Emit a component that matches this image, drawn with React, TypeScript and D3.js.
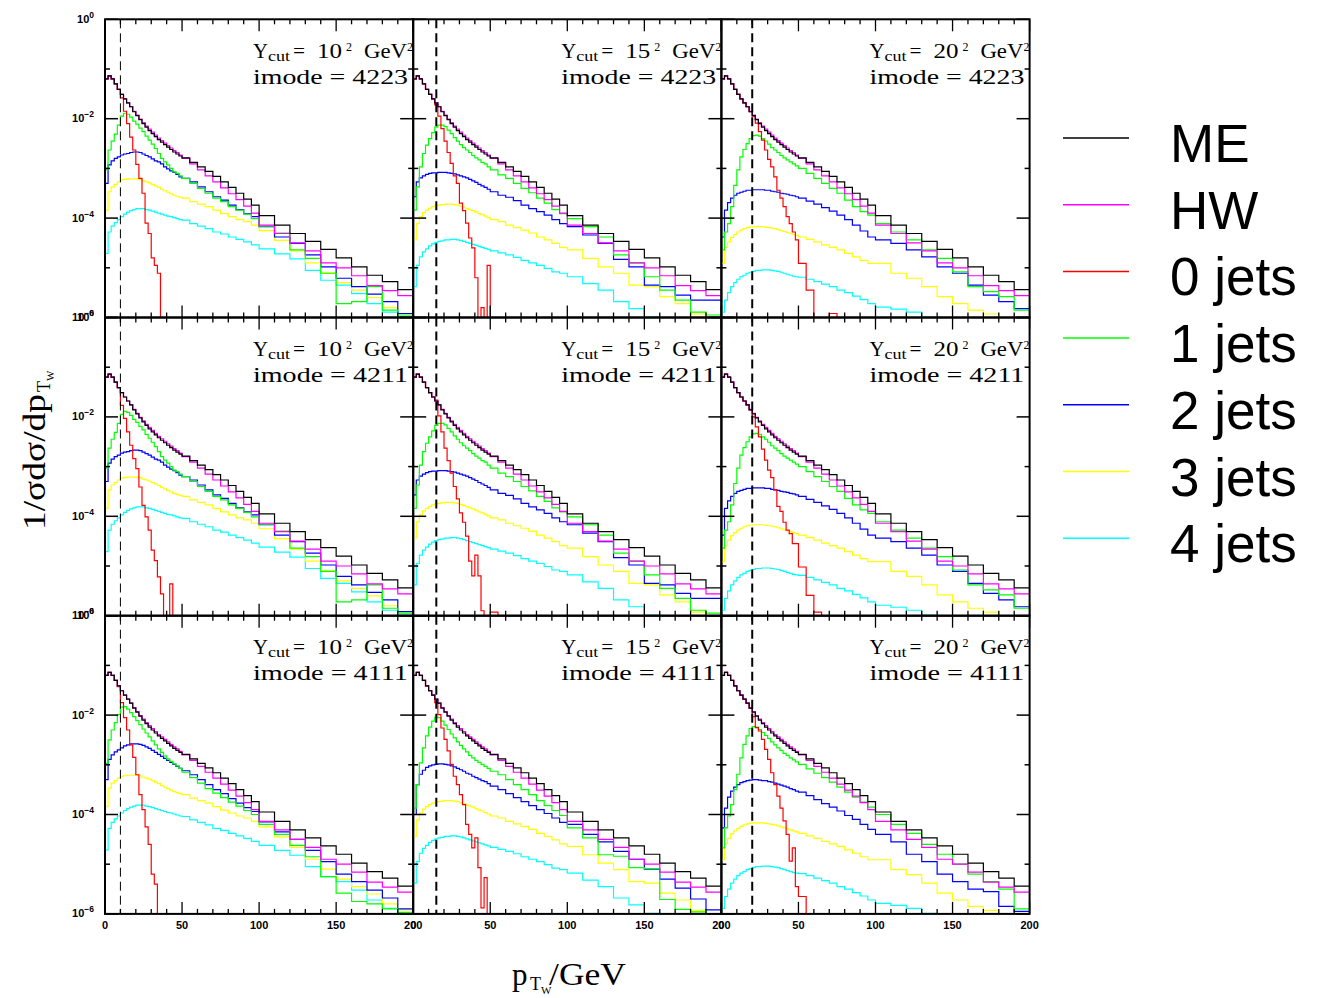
import React from "react";
import * as d3 from "d3";

// ---------------- data ----------------
// bin edges (GeV): 2 GeV bins to 50, 5 GeV bins to 100, 10 GeV bins to 200
const BIN_EDGES = [0, 2, 4, 6, 8, 10, 12, 14, 16, 18, 20, 22, 24, 26, 28, 30, 32, 34, 36, 38, 40, 42, 44, 46, 48, 50,
  55, 60, 65, 70, 75, 80, 85, 90, 95, 100, 110, 120, 130, 140, 150, 160, 170, 180, 190, 200];

const Y_CUT = [10, 15, 20]; // sqrt(Ycut) in GeV, one per column
const IMODE = [4223, 4211, 4111]; // one per row
const SERIES = ["ME", "HW", "0 jets", "1 jets", "2 jets", "3 jets", "4 jets"];
const COLORS = ["#000000", "#ff00ff", "#ff0000", "#00ff00", "#0000ff", "#ffff00", "#00ffff"];
const X_TICK_LABELS = [0, 50, 100, 150, 200];
const Y_TICK_EXP = [0, -2, -4, -6];

// values are log10(1/sigma dsigma/dpT); null = empty bin
const ME_LOG = [-1.20, -1.14, -1.20, -1.30, -1.41, -1.51, -1.60, -1.68, -1.76, -1.86, -1.94, -2.02, -2.10, -2.17, -2.24, -2.30, -2.36, -2.42, -2.47, -2.52, -2.57, -2.62, -2.67, -2.71, -2.75,
  -2.79, -2.88, -2.97, -3.06, -3.16, -3.27, -3.38, -3.50, -3.62, -3.74,
  -3.95, -4.14, -4.31, -4.47, -4.63, -4.80, -4.98, -5.15, -5.28, -5.44];
const HW_LOG = [-1.20, -1.14, -1.20, -1.30, -1.41, -1.51, -1.60, -1.68, -1.76, -1.85, -1.93, -2.01, -2.08, -2.15, -2.21, -2.27, -2.33, -2.39, -2.44, -2.49, -2.54, -2.59, -2.64, -2.68, -2.73,
  -2.80, -2.91, -3.03, -3.15, -3.27, -3.39, -3.51, -3.63, -3.76, -3.90,
  -4.14, -4.31, -4.50, -4.66, -4.90, -5.00, -5.16, -5.36, -5.46, -5.56];

// ---- column 1 (Ycut = 10^2), rows 1-2
const J1_C1 = [-3.03, -2.63, -2.45, -2.31, -2.13, -1.95, -1.89, -1.91, -1.97, -2.05, -2.11, -2.19, -2.26, -2.35, -2.43, -2.51, -2.60, -2.70, -2.80, -2.87, -2.93, -3.00, -3.07, -3.10, -3.15,
  -3.20, -3.30, -3.40, -3.50, -3.60, -3.67, -3.77, -3.84, -3.92, -4.01,
  -4.16, -4.30, -4.64, -4.81, -5.11, -5.72, -5.68, -5.38, -5.85, -5.95];
const J2_C1 = [-3.30, -2.93, -2.85, -2.80, -2.77, -2.73, -2.71, -2.70, -2.68, -2.67, -2.67, -2.68, -2.71, -2.74, -2.77, -2.81, -2.85, -2.87, -2.91, -2.97, -3.01, -3.05, -3.08, -3.12, -3.17,
  -3.20, -3.27, -3.37, -3.47, -3.57, -3.64, -3.74, -3.83, -3.91, -3.97,
  -4.17, -4.38, -4.51, -4.74, -4.98, -5.21, -5.38, -5.53, -5.68, -5.92];
const J3_C1 = [-3.84, -3.47, -3.37, -3.32, -3.27, -3.23, -3.22, -3.21, -3.21, -3.21, -3.21, -3.22, -3.25, -3.27, -3.29, -3.32, -3.35, -3.38, -3.42, -3.45, -3.48, -3.51, -3.54, -3.56, -3.58,
  -3.60, -3.67, -3.72, -3.77, -3.84, -3.91, -3.97, -4.03, -4.07, -4.14,
  -4.25, -4.45, -4.66, -4.90, -5.10, -5.30, -5.45, -5.60, -5.80, -5.92];
const J4_C1 = [-4.71, -4.28, -4.16, -4.09, -4.03, -3.97, -3.92, -3.88, -3.85, -3.83, -3.81, -3.81, -3.81, -3.83, -3.84, -3.86, -3.88, -3.90, -3.92, -3.94, -3.96, -3.97, -3.99, -4.01, -4.03,
  -4.04, -4.11, -4.16, -4.21, -4.28, -4.32, -4.38, -4.43, -4.48, -4.54,
  -4.62, -4.72, -4.82, -5.05, -5.25, -5.35, -5.52, -5.72, -5.89, -5.99];
// column 1, row 3
const J1_C1_R3 = [-2.97, -2.50, -2.30, -2.15, -1.99, -1.84, -1.83, -1.88, -1.95, -2.03, -2.11, -2.19, -2.28, -2.36, -2.44, -2.52, -2.60, -2.68, -2.75, -2.82, -2.88, -2.93, -2.98, -3.02, -3.07,
  -3.15, -3.26, -3.37, -3.48, -3.57, -3.66, -3.75, -3.83, -3.92, -4.00,
  -4.20, -4.40, -4.62, -4.85, -5.25, -5.58, -5.75, -5.80, -5.90, -5.97];
const J2_C1_R3 = [-3.30, -2.89, -2.80, -2.74, -2.70, -2.66, -2.62, -2.60, -2.58, -2.58, -2.58, -2.59, -2.61, -2.64, -2.67, -2.71, -2.75, -2.79, -2.83, -2.87, -2.91, -2.95, -2.99, -3.03, -3.07,
  -3.12, -3.20, -3.30, -3.40, -3.50, -3.58, -3.68, -3.77, -3.86, -3.94,
  -4.15, -4.35, -4.50, -4.72, -4.95, -5.20, -5.35, -5.52, -5.68, -5.90];
const J0_R1C1 = [-1.20, -1.14, -1.20, -1.30, -1.41, -1.58, -1.85, -2.10, -2.37, -2.63, -2.92, -3.20, -3.50, -4.10, -4.31, -4.80, -4.95, -5.11];
const J0_R2C1 = [-1.20, -1.14, -1.20, -1.30, -1.41, -1.77, -2.03, -2.30, -2.57, -2.84, -3.04, -3.41, -3.78, -4.01, -4.28, -4.68, -4.89, -5.22, -5.56, null, null, -5.36];
const J0_R3C1 = [-1.20, -1.14, -1.20, -1.30, -1.43, -1.75, -2.05, -2.30, -2.60, -2.85, -3.20, -3.60, -3.90, -4.25, -4.60, -5.20, -5.40];

// ---- column 2 (Ycut = 15^2), rows 1-2
const J1_C2 = [-3.84, -3.37, -2.97, -2.70, -2.53, -2.40, -2.28, -2.17, -2.13, -2.13, -2.16, -2.23, -2.30, -2.38, -2.45, -2.52, -2.58, -2.63, -2.68, -2.74, -2.79, -2.83, -2.88, -2.91, -2.97,
  -3.03, -3.13, -3.20, -3.30, -3.40, -3.49, -3.60, -3.70, -3.83, -3.91,
  -4.01, -4.17, -4.38, -4.74, -4.90, -5.18, -5.45, -5.65, -5.89, -5.95];
const J2_C2 = [-3.57, -3.27, -3.19, -3.15, -3.12, -3.10, -3.09, -3.09, -3.08, -3.08, -3.08, -3.09, -3.10, -3.11, -3.13, -3.15, -3.17, -3.19, -3.22, -3.25, -3.28, -3.32, -3.35, -3.38, -3.42,
  -3.47, -3.54, -3.58, -3.65, -3.74, -3.81, -3.87, -3.94, -4.03, -4.11,
  -4.17, -4.34, -4.51, -4.83, -4.98, -5.35, -5.38, -5.55, -5.65, -5.65];
const J3_C2 = [-4.44, -4.11, -3.97, -3.89, -3.84, -3.80, -3.77, -3.75, -3.74, -3.73, -3.72, -3.72, -3.72, -3.73, -3.74, -3.76, -3.78, -3.81, -3.83, -3.85, -3.88, -3.91, -3.93, -3.96, -3.99,
  -4.03, -4.07, -4.14, -4.19, -4.24, -4.30, -4.38, -4.44, -4.51, -4.59,
  -4.64, -4.81, -4.98, -5.11, -5.35, -5.38, -5.58, -5.72, -5.93, null];
const J4_C2 = [-5.38, -4.95, -4.78, -4.68, -4.62, -4.56, -4.52, -4.49, -4.47, -4.46, -4.44, -4.44, -4.43, -4.43, -4.44, -4.45, -4.47, -4.49, -4.51, -4.53, -4.55, -4.57, -4.59, -4.61, -4.63,
  -4.66, -4.70, -4.74, -4.79, -4.85, -4.90, -4.95, -5.01, -5.08, -5.11,
  -5.18, -5.32, -5.45, -5.68, -5.82, -5.99, null, null, null, null];
// column 2, row 3
const J1_C2_R3 = [-3.87, -3.40, -2.96, -2.66, -2.42, -2.24, -2.12, -2.04, -2.05, -2.12, -2.20, -2.29, -2.38, -2.46, -2.54, -2.61, -2.68, -2.74, -2.81, -2.86, -2.91, -2.95, -2.99, -3.03, -3.07,
  -3.13, -3.20, -3.30, -3.40, -3.50, -3.60, -3.72, -3.82, -3.92, -4.02,
  -4.27, -4.47, -4.81, -4.84, -5.07, -5.09, -5.71, -5.91, -5.96, null];
const J2_C2_R3 = [-4.00, -3.40, -3.19, -3.11, -3.05, -3.02, -3.00, -2.99, -2.98, -2.98, -2.99, -3.00, -3.02, -3.04, -3.07, -3.10, -3.13, -3.17, -3.19, -3.23, -3.26, -3.29, -3.32, -3.34, -3.38,
  -3.43, -3.50, -3.58, -3.66, -3.74, -3.82, -3.90, -3.98, -4.07, -4.16,
  -4.20, -4.40, -4.55, -4.74, -4.90, -5.10, -5.30, -5.48, -5.70, -5.92];
const J0_R1C2 = [-1.20, -1.14, -1.20, -1.30, -1.41, -1.51, -1.60, -1.72, -1.95, -2.20, -2.45, -2.68, -2.90, -3.15, -3.30, -3.70, -3.85, -4.10, -4.40, -4.60, -5.20, null, -5.80, null, -4.95];
const J0_R2C2 = [-1.20, -1.14, -1.20, -1.30, -1.41, -1.51, -1.60, -1.66, -1.98, -2.30, -2.63, -2.88, -3.13, -3.40, -3.65, -3.93, -4.12, -4.40, -4.90, -5.20, -4.78, -5.20, -5.90, null, null, -5.93];
const J0_R3C2 = [-1.20, -1.14, -1.20, -1.30, -1.41, -1.51, -1.60, -1.75, -1.99, -2.26, -2.49, -2.72, -2.99, -3.23, -3.40, -3.60, -3.80, -4.20, -4.40, -4.67, -4.47, -5.07, -5.88, -5.27];

// ---- column 3 (Ycut = 20^2), rows 1-2
const J1_C3 = [-4.64, -4.28, -4.11, -3.77, -3.34, -3.03, -2.77, -2.62, -2.50, -2.40, -2.34, -2.33, -2.35, -2.40, -2.45, -2.51, -2.58, -2.63, -2.68, -2.74, -2.79, -2.83, -2.87, -2.91, -2.95,
  -3.00, -3.10, -3.20, -3.30, -3.40, -3.50, -3.64, -3.77, -3.87, -3.94,
  -4.11, -4.28, -4.44, -4.64, -4.81, -5.08, -5.38, -5.48, -5.58, -5.85];
const J2_C3 = [-4.38, -3.84, -3.69, -3.60, -3.54, -3.50, -3.48, -3.46, -3.44, -3.44, -3.43, -3.43, -3.43, -3.43, -3.44, -3.44, -3.46, -3.47, -3.48, -3.50, -3.51, -3.52, -3.54, -3.55, -3.57,
  -3.60, -3.66, -3.72, -3.79, -3.86, -3.94, -4.03, -4.14, -4.26, -4.38,
  -4.44, -4.51, -4.64, -4.78, -4.98, -5.11, -5.35, -5.55, -5.68, -5.82];
const J3_C3 = [-4.91, -4.59, -4.48, -4.39, -4.33, -4.28, -4.24, -4.21, -4.19, -4.18, -4.17, -4.17, -4.17, -4.17, -4.18, -4.19, -4.20, -4.21, -4.23, -4.25, -4.27, -4.29, -4.31, -4.33, -4.35,
  -4.38, -4.43, -4.48, -4.54, -4.59, -4.64, -4.71, -4.78, -4.85, -4.91,
  -4.91, -5.11, -5.21, -5.38, -5.58, -5.72, -5.85, -5.93, null, null];
const J4_C3 = [-5.89, -5.65, -5.50, -5.38, -5.30, -5.23, -5.18, -5.15, -5.11, -5.09, -5.07, -5.05, -5.05, -5.04, -5.04, -5.04, -5.05, -5.06, -5.07, -5.09, -5.11, -5.13, -5.15, -5.17, -5.18,
  -5.19, -5.23, -5.28, -5.33, -5.38, -5.45, -5.50, -5.57, -5.64, -5.72,
  -5.79, -5.83, -5.89, -5.99, null, null, null, null, null, null];
// column 3, row 3
const J1_C3_R3 = [-4.67, -4.27, -4.03, -3.80, -3.50, -3.19, -2.86, -2.59, -2.42, -2.27, -2.23, -2.24, -2.29, -2.35, -2.41, -2.47, -2.54, -2.60, -2.66, -2.71, -2.77, -2.81, -2.86, -2.90, -2.94,
  -2.99, -3.08, -3.17, -3.26, -3.35, -3.45, -3.55, -3.65, -3.75, -3.85,
  -4.00, -4.20, -4.38, -4.60, -4.80, -5.00, -5.20, -5.35, -5.50, -5.90];
const J2_C3_R3 = [-4.27, -3.87, -3.65, -3.53, -3.45, -3.40, -3.36, -3.34, -3.32, -3.31, -3.30, -3.30, -3.31, -3.32, -3.32, -3.34, -3.35, -3.37, -3.39, -3.41, -3.43, -3.45, -3.48, -3.50, -3.53,
  -3.55, -3.62, -3.70, -3.78, -3.85, -3.93, -4.02, -4.10, -4.20, -4.30,
  -4.40, -4.55, -4.80, -4.95, -5.20, -5.35, -5.50, -5.55, -5.85, -5.95];
const J0_R1C3 = [-1.20, -1.14, -1.20, -1.30, -1.41, -1.51, -1.60, -1.68, -1.76, -1.86, -1.95, -2.09, -2.26, -2.43, -2.63, -2.82, -2.97, -3.17, -3.44, -3.60, -3.77, -3.97, -4.11, -4.28, -4.44, -4.91, -5.45, null, null, -5.92];
const J0_R2C3 = [-1.20, -1.14, -1.20, -1.30, -1.41, -1.51, -1.60, -1.68, -1.76, -1.86, -2.00, -2.20, -2.40, -2.65, -2.87, -3.07, -3.22, -3.47, -3.80, -3.90, -4.12, -4.28, -4.35, -4.55, -4.55, -5.02, -5.59, -5.93];
const J0_R3C3 = [-1.20, -1.14, -1.20, -1.30, -1.41, -1.51, -1.60, -1.68, -1.76, -1.86, -2.03, -2.25, -2.32, -2.49, -2.69, -2.89, -3.16, -3.40, -3.63, -3.87, -4.13, -4.40, -4.94, -4.67, -5.45, -5.65];

type Vals = (number | null)[];
// [row][col] -> series in SERIES order
const PANEL_DATA: Vals[][][] = [
  [
    [ME_LOG, HW_LOG, J0_R1C1, J1_C1, J2_C1, J3_C1, J4_C1],
    [ME_LOG, HW_LOG, J0_R1C2, J1_C2, J2_C2, J3_C2, J4_C2],
    [ME_LOG, HW_LOG, J0_R1C3, J1_C3, J2_C3, J3_C3, J4_C3],
  ],
  [
    [ME_LOG, HW_LOG, J0_R2C1, J1_C1, J2_C1, J3_C1, J4_C1],
    [ME_LOG, HW_LOG, J0_R2C2, J1_C2, J2_C2, J3_C2, J4_C2],
    [ME_LOG, HW_LOG, J0_R2C3, J1_C3, J2_C3, J3_C3, J4_C3],
  ],
  [
    [ME_LOG, HW_LOG, J0_R3C1, J1_C1_R3, J2_C1_R3, J3_C1, J4_C1],
    [ME_LOG, HW_LOG, J0_R3C2, J1_C2_R3, J2_C2_R3, J3_C2, J4_C2],
    [ME_LOG, HW_LOG, J0_R3C3, J1_C3_R3, J2_C3_R3, J3_C3, J4_C3],
  ],
];

// ---------------- layout ----------------
const W = 1317, H = 998;
const PLOT_LEFT = 105, PLOT_TOP = 19.3, PANEL_W = 308.2, PANEL_H = 298.2;
const SERIF = "'Liberation Serif', 'DejaVu Serif', serif";
const TICKF = "'Liberation Sans', Arial, sans-serif";

function histPath(vals: Vals, x: d3.ScaleLinear<number, number>, y: d3.ScaleLogarithmic<number, number>, bottom: number) {
  let d = "";
  for (let i = 0; i < BIN_EDGES.length - 1; i++) {
    const v = vals[i];
    const yy = v === null || v === undefined ? bottom + 6 : y(Math.pow(10, v));
    const xa = x(BIN_EDGES[i]);
    const xb = x(BIN_EDGES[i + 1]);
    d += i === 0 ? `M${xa},${yy}` : `V${yy}`;
    d += `H${xb}`;
  }
  return d;
}

function Panel({ r, c }: { r: number; c: number }) {
  const x0 = PLOT_LEFT + c * PANEL_W;
  const y0 = PLOT_TOP + r * PANEL_H;
  const x = d3.scaleLinear().domain([0, 200]).range([x0, x0 + PANEL_W]);
  const y = d3.scaleLog().domain([1e-6, 1]).range([y0 + PANEL_H, y0]);
  const bottom = y0 + PANEL_H;
  const series = PANEL_DATA[r][c];
  const clipId = `clip-${r}-${c}`;
  const drawOrder = [6, 5, 4, 3, 2, 1, 0];
  const decades = d3.range(-6, 1);
  const xTicks = x.ticks(20);
  const cut = Y_CUT[c];
  return (
    <g>
      <defs>
        <clipPath id={clipId}>
          <rect x={x0} y={y0} width={PANEL_W} height={PANEL_H} />
        </clipPath>
      </defs>
      <g clipPath={`url(#${clipId})`}>
        {drawOrder.map((k) => (
          <path key={k} d={histPath(series[k], x, y, bottom)} fill="none" stroke={COLORS[k]} strokeWidth={1.2} />
        ))}
        <line x1={x(cut)} x2={x(cut)} y1={y0} y2={bottom} stroke="#000" strokeWidth={c === 0 ? 1 : 2} strokeDasharray="9,5" />
      </g>
      {/* ticks */}
      {decades.map((e) => {
        const len = e % 2 === 0 ? 13 : 5;
        const yy = y(Math.pow(10, e));
        return (
          <g key={"y" + e}>
            <line x1={x0} x2={x0 + len} y1={yy} y2={yy} stroke="#000" strokeWidth={1.5} />
            <line x1={x0 + PANEL_W - len} x2={x0 + PANEL_W} y1={yy} y2={yy} stroke="#000" strokeWidth={1.5} />
          </g>
        );
      })}
      {xTicks.map((t) => {
        const len = t % 50 === 0 ? 12 : 5;
        const xx = x(t);
        return (
          <g key={"x" + t}>
            <line x1={xx} x2={xx} y1={bottom} y2={bottom - len} stroke="#000" strokeWidth={1.3} />
            <line x1={xx} x2={xx} y1={y0} y2={y0 + len} stroke="#000" strokeWidth={1.3} />
          </g>
        );
      })}
      <rect x={x0} y={y0} width={PANEL_W} height={PANEL_H} fill="none" stroke="#000" strokeWidth={2} />
      {/* annotation */}
      <g transform={`translate(${x0},${y0})`} fontFamily={SERIF} fill="#000">
        <text x={148} y={38.4} fontSize={20} textLength={15} lengthAdjust="spacingAndGlyphs">Y</text>
        <text x={163} y={41.4} fontSize={14} textLength={22} lengthAdjust="spacingAndGlyphs">cut</text>
        <text x={188} y={38.4} fontSize={20} textLength={12} lengthAdjust="spacingAndGlyphs">=</text>
        <text x={212} y={38.4} fontSize={20} textLength={25} lengthAdjust="spacingAndGlyphs">{String(cut)}</text>
        <text x={241} y={31.4} fontSize={12}>2</text>
        <text x={259} y={38.4} fontSize={20} textLength={43} lengthAdjust="spacingAndGlyphs">GeV</text>
        <text x={302} y={31.4} fontSize={12}>2</text>
        <text x={148} y={64.7} fontSize={20} textLength={155} lengthAdjust="spacingAndGlyphs">{`imode = ${IMODE[r]}`}</text>
      </g>
      {/* y tick labels */}
      {c === 0 &&
        Y_TICK_EXP.map((e) => (
          <text key={"yl" + e} x={94} y={y(Math.pow(10, e)) + 3.5} textAnchor="end" fontFamily={TICKF} fontWeight="bold" fontSize={11} fill="#000">
            10
            <tspan dy={-5} fontSize={8.5}>{e === 0 ? "0" : "\u2212" + String(-e)}</tspan>
          </text>
        ))}
      {/* x tick labels */}
      {r === 2 &&
        X_TICK_LABELS.map((t) => (
          <text key={"xl" + t} x={x(t)} y={bottom + 15} textAnchor="middle" fontFamily={TICKF} fontWeight="bold" fontSize={11} fill="#000">
            {t}
          </text>
        ))}
    </g>
  );
}

export default function App() {
  const rows = [0, 1, 2];
  const cols = [0, 1, 2];
  const legendX1 = 1063, legendX2 = 1129, legendTextX = 1170, legendY0 = 138, legendDY = 66.7;
  return (
    <svg width={W} height={H} style={{ position: "absolute", left: 0, top: 0, background: "#fff" }}>
      <rect x={0} y={0} width={W} height={H} fill="#fff" />
      {rows.map((r) => cols.map((c) => <Panel key={`${r}-${c}`} r={r} c={c} />))}
      {/* y axis title */}
      <g transform="translate(45,530) rotate(-90)" fontFamily={SERIF} fill="#000">
        <text x={0} y={0} fontSize={31} textLength={136} lengthAdjust="spacingAndGlyphs">1/σdσ/dp</text>
        <text x={138} y={5} fontSize={18}>T</text>
        <text x={149} y={9} fontSize={11}>W</text>
      </g>
      {/* x axis title */}
      <g fontFamily={SERIF} fill="#000">
        <text x={512} y={985} fontSize={31}>p</text>
        <text x={530} y={990} fontSize={18}>T</text>
        <text x={541} y={994} fontSize={11}>W</text>
        <text x={549} y={985} fontSize={31} textLength={77} lengthAdjust="spacingAndGlyphs">/GeV</text>
      </g>
      {/* legend */}
      {SERIES.map((s, i) => {
        const ly = legendY0 + i * legendDY;
        return (
          <g key={s}>
            <line x1={legendX1} x2={legendX2} y1={ly} y2={ly} stroke={COLORS[i]} strokeWidth={1.5} />
            <text x={legendTextX} y={ly + 24} fontFamily="'Liberation Sans', Arial, sans-serif" fontSize={53} fill="#000">
              {s}
            </text>
          </g>
        );
      })}
    </svg>
  );
}
